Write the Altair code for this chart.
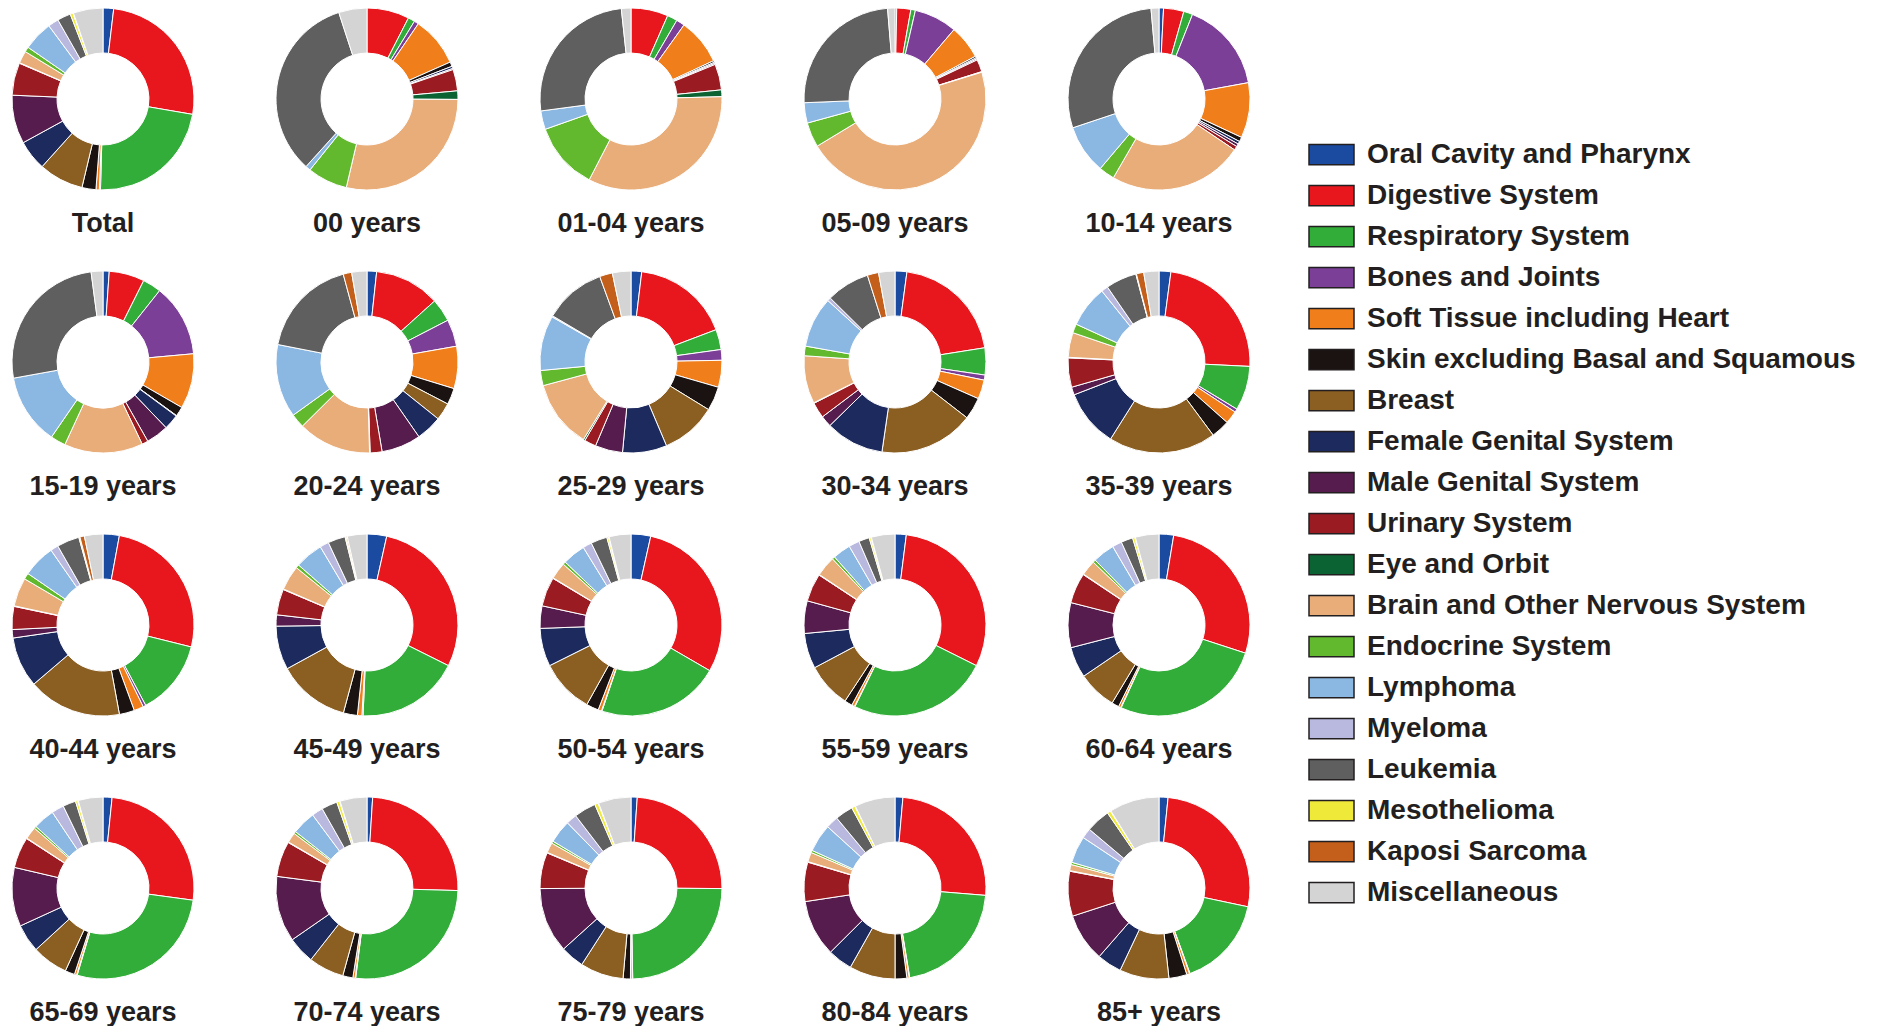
import altair as alt
import pandas as pd

categories = [
    "Oral Cavity and Pharynx", "Digestive System", "Respiratory System",
    "Bones and Joints", "Soft Tissue including Heart",
    "Skin excluding Basal and Squamous", "Breast", "Female Genital System",
    "Male Genital System", "Urinary System", "Eye and Orbit",
    "Brain and Other Nervous System", "Endocrine System", "Lymphoma",
    "Myeloma", "Leukemia", "Mesothelioma", "Kaposi Sarcoma", "Miscellaneous",
]
colors = [
    "#1a4ba0", "#e8171d", "#33ad39", "#7b3f98", "#f07e1b", "#1a1311",
    "#8b5e22", "#1c2a5e", "#571c4e", "#9a1b22", "#0b6333", "#e9ad79",
    "#63b92e", "#8bb8e3", "#b9b9e0", "#5f5f5f", "#efe93a", "#c45f1b",
    "#d4d4d4",
]
ages = [
    "Total", "00 years", "01-04 years", "05-09 years", "10-14 years",
    "15-19 years", "20-24 years", "25-29 years", "30-34 years", "35-39 years",
    "40-44 years", "45-49 years", "50-54 years", "55-59 years", "60-64 years",
    "65-69 years", "70-74 years", "75-79 years", "80-84 years", "85+ years",
]

# shares (%) per age group, in legend order
total = [1.9, 26.0, 22.9, 0.2, 0.6, 2.5, 8.0, 5.4, 8.7, 5.8, 0.1, 2.2, 0.9, 5.3, 1.9, 2.4, 0.5, 0.1, 5.3]
age_00 = [0, 7.5, 1.2, 0.8, 8.8, 0.8, 0, 0.4, 0.2, 3.8, 1.5, 28.5, 7.1, 0.9, 0, 33.2, 0, 0, 5.0]
age_01_04 = [0, 6.6, 1.8, 1.5, 8.2, 0.3, 0, 0.2, 0.2, 4.6, 1.2, 33.0, 12.0, 3.3, 0, 25.4, 0, 0, 1.7]
age_05_09 = [0.3, 2.5, 0.8, 7.6, 6.0, 0.3, 0, 0.2, 0.2, 2.2, 0.1, 46.0, 4.4, 3.6, 0, 24.3, 0, 0, 1.3]
age_10_14 = [0.8, 3.6, 1.6, 16.1, 9.8, 0.8, 0, 0.5, 0.5, 0.7, 0, 23.9, 2.8, 8.7, 0, 28.7, 0, 0, 1.4]
age_15_19 = [1.1, 6.3, 3.3, 12.9, 9.8, 1.7, 0.1, 2.7, 4.0, 1.1, 0, 14.0, 2.7, 12.6, 0, 25.8, 0, 0, 2.1]
age_20_24 = [1.7, 11.6, 4.1, 4.8, 7.5, 2.9, 3.1, 4.6, 7.0, 2.1, 0.1, 13.0, 2.5, 13.0, 0, 17.7, 0, 1.5, 2.7]
age_25_29 = [1.9, 17.4, 3.6, 1.9, 4.8, 4.3, 9.9, 7.9, 4.9, 2.1, 0.3, 12.1, 2.7, 9.8, 0.2, 11.0, 0, 2.3, 3.3]
age_30_34 = [2.1, 20.4, 4.8, 0.9, 3.4, 3.9, 16.8, 10.4, 2.0, 2.8, 0.1, 8.5, 1.7, 9.0, 0.6, 7.7, 0, 2.0, 2.9]
age_35_39 = [2.1, 23.7, 7.9, 0.6, 2.3, 3.3, 19.1, 10.2, 1.4, 5.2, 0.1, 4.4, 1.6, 7.4, 1.2, 5.5, 0.1, 1.3, 2.7]
age_40_44 = [2.9, 26.1, 13.4, 0.5, 1.7, 2.7, 16.7, 9.0, 1.5, 4.1, 0.1, 5.1, 1.1, 5.8, 1.4, 4.0, 0.2, 0.8, 3.3]
age_45_49 = [3.5, 29.0, 18.4, 0.2, 0.8, 2.5, 12.9, 7.8, 2.0, 4.6, 0.1, 4.4, 0.6, 5.0, 1.6, 3.1, 0.2, 0.2, 3.5]
age_50_54 = [3.5, 30.0, 21.9, 0.1, 0.6, 2.2, 9.6, 6.8, 4.0, 5.2, 0.1, 3.0, 0.5, 4.1, 1.6, 2.9, 0.3, 0.1, 3.9]
age_55_59 = [2.0, 30.5, 25.0, 0.1, 0.5, 1.4, 8.0, 6.3, 5.8, 5.0, 0.1, 3.6, 0.5, 3.2, 1.9, 1.9, 0.3, 0.1, 4.2]
age_60_64 = [2.6, 27.5, 26.9, 0.1, 0.4, 1.3, 6.9, 5.5, 8.0, 5.4, 0.1, 2.7, 0.5, 3.9, 1.7, 2.1, 0.4, 0.1, 4.2]
age_65_69 = [1.6, 25.6, 27.5, 0.1, 0.4, 1.7, 6.4, 5.0, 10.5, 5.5, 0.1, 2.2, 0.4, 3.8, 2.2, 2.3, 0.4, 0.1, 4.4]
age_70_74 = [1.0, 24.5, 26.6, 0.1, 0.4, 1.8, 6.3, 4.8, 11.7, 6.3, 0.1, 1.8, 0.4, 4.2, 2.0, 2.8, 0.5, 0.1, 4.8]
age_75_79 = [1.1, 24.0, 24.6, 0.1, 0.3, 1.3, 7.7, 4.2, 11.6, 6.4, 0.1, 1.8, 0.4, 4.1, 1.9, 3.9, 0.6, 0.1, 5.8]
age_80_84 = [1.4, 25.0, 21.2, 0.1, 0.4, 2.1, 8.2, 4.4, 10.1, 7.0, 0.1, 1.7, 0.4, 5.0, 2.2, 3.2, 0.6, 0.1, 7.2]
age_85_up = [1.6, 26.8, 16.2, 0.1, 0.5, 3.2, 8.8, 4.4, 8.6, 8.0, 0.1, 1.1, 0.4, 4.8, 1.8, 4.3, 0.6, 0.1, 8.9]

series = [
    total, age_00, age_01_04, age_05_09, age_10_14, age_15_19, age_20_24,
    age_25_29, age_30_34, age_35_39, age_40_44, age_45_49, age_50_54,
    age_55_59, age_60_64, age_65_69, age_70_74, age_75_79, age_80_84, age_85_up,
]

rows = []
for age, vals in zip(ages, series):
    for i, (cat, v) in enumerate(zip(categories, vals)):
        if v > 0:
            rows.append({"age": age, "cat": cat, "idx": i, "value": v})
df = pd.DataFrame(rows)

FONT = "Liberation Sans"
INK = "#231f20"

donut = alt.Chart(df).mark_arc(
    innerRadius=46, outerRadius=91, stroke="white", strokeWidth=1
).encode(
    theta=alt.Theta("value:Q", stack=True),
    color=alt.Color(
        "cat:N",
        scale=alt.Scale(domain=categories, range=colors),
        legend=alt.Legend(
            title=None,
            orient="none",
            direction="vertical",
            legendX=1300,
            legendY=123,
            padding=0,
            symbolType="M-1,-0.45H1V0.45H-1Z",
            symbolSize=2025,
            symbolStrokeColor=INK,
            symbolStrokeWidth=1.5,
            symbolOpacity=1,
            labelFont=FONT,
            labelFontSize=28,
            labelFontWeight="bold",
            labelColor=INK,
            labelOffset=12,
            labelLimit=0,
            rowPadding=3,
        ),
    ),
    order=alt.Order("idx:Q"),
    x=alt.value(95),
    y=alt.value(91),
).properties(width=190, height=182)

chart = donut.facet(
    facet=alt.Facet(
        "age:N",
        sort=ages,
        header=alt.Header(
            title=None,
            labelOrient="bottom",
            labelFont=FONT,
            labelFontSize=27,
            labelFontWeight="bold",
            labelColor=INK,
            labelPadding=19,
        ),
    ),
    columns=5,
    spacing={"row": 32, "column": 74},
).configure_view(stroke=None).properties(
    padding={"top": -2, "left": 0, "right": 0, "bottom": 0}
)

chart.save("out.html", embed_options={"renderer": "svg", "actions": False})
